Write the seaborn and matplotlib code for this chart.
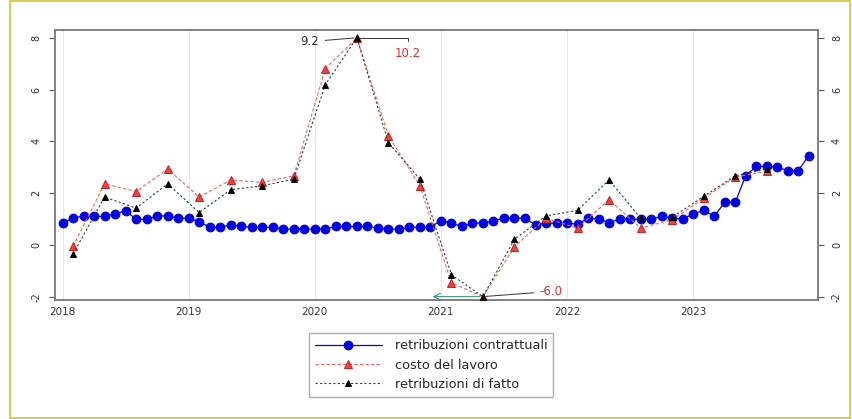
import numpy as np
import pandas as pd
import matplotlib
matplotlib.use("Agg")
import matplotlib.pyplot as plt
import seaborn as sns

# ---------------- data ----------------
years = [2018, 2019, 2020, 2021, 2022, 2023]
y_ticks = [-2, 0, 2, 4, 6, 8]

# monthly contractual wages (Jan 2018 - Dec 2023), % yoy
contrattuali = [0.84, 1.03, 1.12, 1.10, 1.10, 1.20, 1.31, 0.99, 0.99, 1.12, 1.12, 1.03,
                1.03, 0.90, 0.68, 0.68, 0.77, 0.71, 0.68, 0.68, 0.68, 0.61, 0.61, 0.61,
                0.61, 0.61, 0.71, 0.71, 0.71, 0.71, 0.65, 0.61, 0.61, 0.68, 0.68, 0.68,
                0.94, 0.84, 0.71, 0.84, 0.84, 0.94, 1.03, 1.03, 1.03, 0.77, 0.84, 0.84,
                0.84, 0.80, 1.03, 0.99, 0.86, 0.99, 0.99, 0.99, 0.99, 1.10, 1.03, 0.99,
                1.20, 1.33, 1.10, 1.64, 1.64, 2.67, 3.03, 3.03, 3.00, 2.87, 2.87, 3.44]

# quarterly series (2018Q1 - 2023Q3), % yoy
costo_lavoro = [-0.05, 2.36, 2.06, 2.93, 1.85, 2.51, 2.41, 2.67,
                6.81, 10.2, 4.22, 2.28, -1.47, -6.0, -0.07, 1.03,
                0.65, 1.74, 0.65, 0.97, 1.80, 2.62, 2.84]
retr_fatto = [-0.35, 1.85, 1.42, 2.36, 1.25, 2.13, 2.28, 2.54,
              6.19, 9.2, 3.95, 2.54, -1.16, -5.6, 0.22, 1.12,
              1.33, 2.51, 1.03, 1.07, 1.87, 2.67, 2.93]

labels = ["retribuzioni contrattuali", "costo del lavoro", "retribuzioni di fatto"]

# ---------------- build frames ----------------
ymin_clip, ymax_clip = -2, 8
df_m = pd.DataFrame({"t": 2018 + np.arange(len(contrattuali)) / 12.0,
                     "v": contrattuali})
tq = 2018 + (3 * np.arange(len(costo_lavoro)) + 1) / 12.0
df_c = pd.DataFrame({"t": tq, "v": np.clip(costo_lavoro, ymin_clip, ymax_clip)})
df_f = pd.DataFrame({"t": tq, "v": np.clip(retr_fatto, ymin_clip, ymax_clip)})

sns.set_theme(style="white")
plt.rcParams["font.family"] = ["DejaVu Sans"]

fig = plt.figure(figsize=(8.52, 4.19), dpi=100)
ax = fig.add_axes([55 / 852, 1 - 300 / 419, (818 - 55) / 852, (300 - 30) / 419])

# vertical grid at years
for yr in years:
    ax.axvline(yr, color="#e8e8e8", lw=0.8, zorder=0)

sns.lineplot(data=df_m, x="t", y="v", ax=ax, color="#0000e0", lw=0.9,
             marker="o", markersize=6.3, markeredgecolor="#0000e0",
             label=labels[0], zorder=3)
sns.lineplot(data=df_c, x="t", y="v", ax=ax, color="#ff6060", lw=0.8,
             linestyle=(0, (3, 2)), marker="^", markersize=5.5,
             markerfacecolor="#f04040", markeredgecolor="#d02020",
             label=labels[1], zorder=4)
sns.lineplot(data=df_f, x="t", y="v", ax=ax, color="#1e4a40", lw=0.8,
             linestyle=(0, (2, 2)), marker="^", markersize=5,
             markerfacecolor="black", markeredgecolor="black",
             label=labels[2], zorder=5)

ax.set_xlim(2017.94, 2023.99)
ax.set_ylim(-2.13, 8.3)
ax.set_xlabel("")
ax.set_ylabel("")
ax.set_xticks(years)
ax.set_xticklabels([str(y) for y in years], fontsize=7.5, color="#333333")
ax.set_yticks(y_ticks)
ax.set_yticklabels([str(v) for v in y_ticks], fontsize=7, rotation=90,
                   va="center", color="#333333")
ax.tick_params(axis="y", which="both", left=True, right=True, labelleft=True,
               labelright=True, length=4, width=0.8, color="#555555", pad=6)
ax.tick_params(axis="x", length=0, pad=5)
for lab in ax.get_yticklabels(which="both"):
    lab.set_rotation(90)
    lab.set_va("center")
for s in ax.spines.values():
    s.set_color("#777777")
    s.set_linewidth(1.3)

# annotations for clipped values
ipk = int(np.argmax(costo_lavoro))
ipm = int(np.argmin(costo_lavoro))
xpk, xpm = tq[ipk], tq[ipm]
ax.annotate(f"{retr_fatto[ipk]:.1f}", xy=(xpk, ymax_clip), xytext=(xpk - 0.3, 7.85),
            fontsize=8.5, color="#333333", va="center", ha="right",
            arrowprops=dict(arrowstyle="-", color="#333333", lw=0.7))
ax.annotate(f"{costo_lavoro[ipk]:.1f}", xy=(xpk, ymax_clip), xytext=(xpk + 0.3, 7.4),
            fontsize=8.5, color="#e03030", va="center", ha="left",
            arrowprops=dict(arrowstyle="-", color="#333333", lw=0.7,
                            connectionstyle="angle,angleA=90,angleB=0,rad=0"))
ax.annotate(f"{costo_lavoro[ipm]:.1f}", xy=(xpm, ymin_clip), xytext=(xpm + 0.45, -1.8),
            fontsize=8.5, color="#e03030", va="center", ha="left",
            arrowprops=dict(arrowstyle="-", color="#333333", lw=0.7))
ax.annotate("", xy=(xpm - 0.42, ymin_clip), xytext=(xpm, ymin_clip),
            arrowprops=dict(arrowstyle="->", color="#2a8a7a", lw=0.7))

# legend
handles, labs = ax.get_legend_handles_labels()
leg = fig.legend(handles, labs, loc="center", bbox_to_anchor=(431 / 852, 1 - 365 / 419),
                 fontsize=9.3, frameon=True, fancybox=False, edgecolor="#999999",
                 handlelength=5.2, handletextpad=1.0, borderpad=0.45,
                 labelspacing=0.5, borderaxespad=0)
leg.get_frame().set_linewidth(1.0)
if ax.get_legend() is not None:
    ax.get_legend().remove()

# outer frame
fig.patches.append(plt.Rectangle((10 / 852, 0.002), (850 - 10) / 852, 1 - 0.004,
                                 transform=fig.transFigure, fill=False,
                                 edgecolor="#c8c832", lw=1.2))

fig.savefig("out.png", dpi=100)
